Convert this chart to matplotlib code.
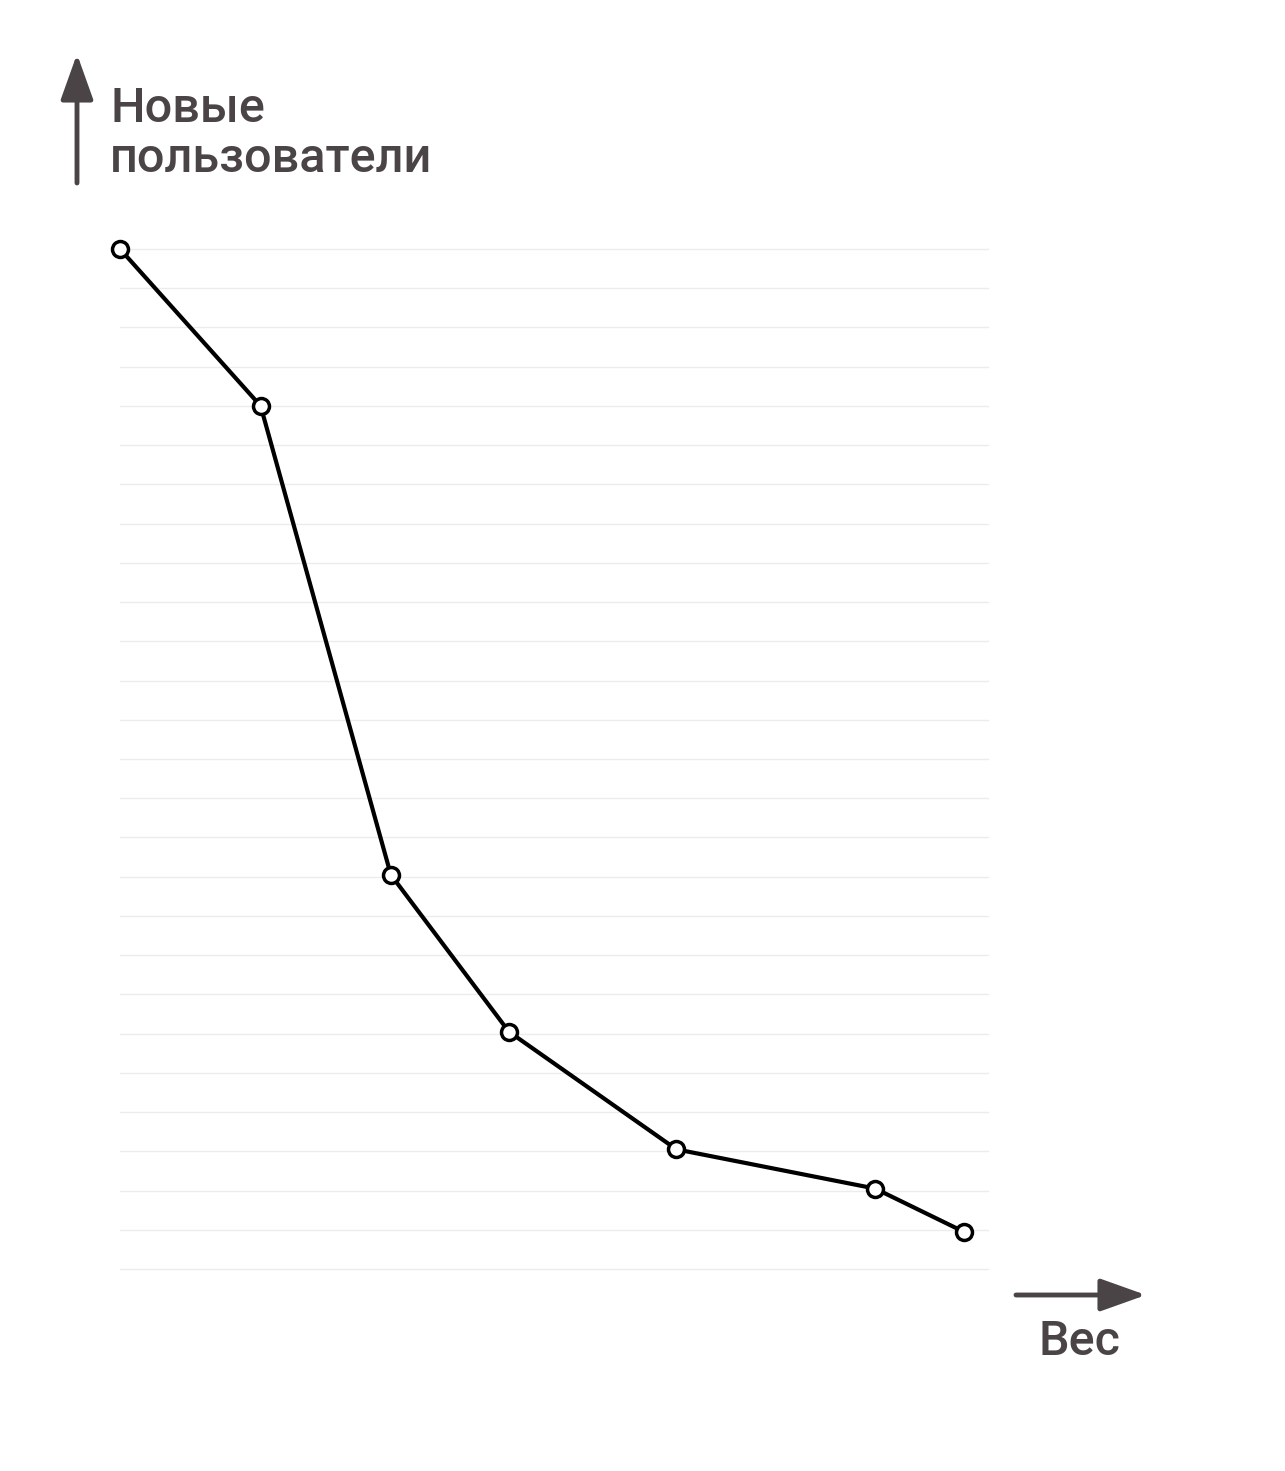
import numpy as np
import matplotlib.pyplot as plt
from matplotlib.patches import FancyArrowPatch

# data
weight = [0, 16.2, 31.2, 44.8, 64.1, 87.0, 97.2]
new_users = [26, 22, 10.05, 6.05, 3.05, 2.05, 0.95]
grid_levels = np.arange(0, 27)

text_color = "#4a4446"

W, H = 1285, 1471
fig = plt.figure(figsize=(W / 100, H / 100), dpi=100)
ax = fig.add_axes([120 / W, (H - 1269) / H, 868 / W, 1020 / H])

for lvl in grid_levels:
    ax.axhline(lvl, color="#ececec", lw=1.0, zorder=0, clip_on=False)

ax.plot(weight, new_users, color="black", lw=3.0, marker="o", markersize=11.5,
        markerfacecolor="white", markeredgecolor="black", markeredgewidth=2.5,
        clip_on=False, zorder=3)

ax.set_xlim(0, 100)
ax.set_ylim(0, 26)
ax.axis("off")


def fig_px(x, y):
    return (x / W, 1 - y / H)


# axis arrows
arrow = dict(arrowstyle="-|>,head_length=1.4,head_width=0.5", color=text_color,
             lw=3.5, shrinkA=0, shrinkB=0, mutation_scale=20,
             transform=fig.transFigure)
fig.add_artist(FancyArrowPatch(fig_px(77, 183), fig_px(77, 54), **arrow))
fig.add_artist(FancyArrowPatch(fig_px(1016, 1295), fig_px(1146, 1295), **arrow))

font = dict(family="Roboto", fontsize=35, color=text_color, fontweight="medium")
fig.text(*fig_px(110, 122), "Новые", ha="left", va="baseline", **font)
fig.text(*fig_px(110, 172), "пользователи", ha="left", va="baseline", **font)
fig.text(*fig_px(1038, 1355), "Вес", ha="left", va="baseline", **font)

fig.savefig("out.png", dpi=100, facecolor="white")
